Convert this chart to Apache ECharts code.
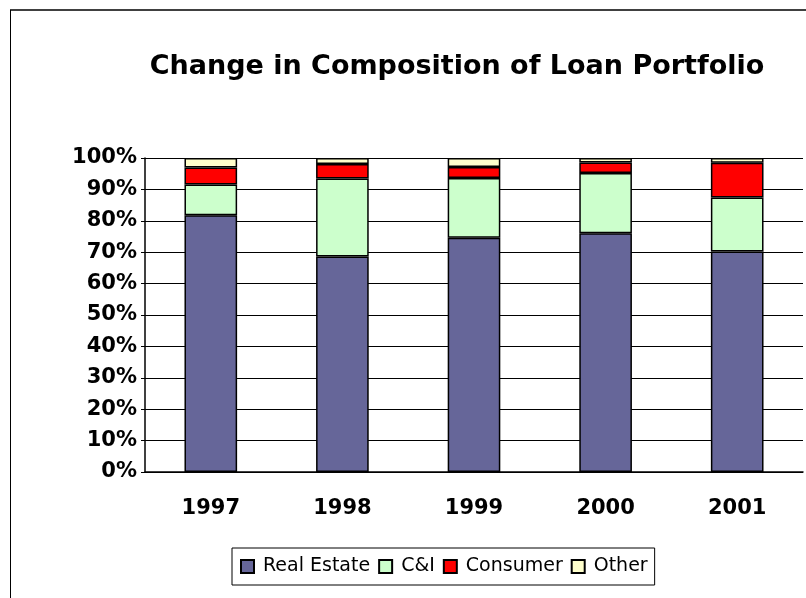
<!DOCTYPE html>
<html><head><meta charset="utf-8">
<script src="https://cdn.jsdelivr.net/npm/echarts@6/dist/echarts.min.js"></script>
<style>html,body{margin:0;padding:0;background:#fff}#c{width:806px;height:598px}</style>
</head><body><div id="c"></div>
<script>
const years = ['1997','1998','1999','2000','2001'];
const realEstate = [81.8, 68.6, 74.6, 76.0, 70.2];
const cAndI = [9.8, 24.9, 19.0, 19.2, 17.2];
const consumer = [5.4, 4.6, 3.5, 3.4, 11.1];
const other = [3.0, 1.9, 2.9, 1.4, 1.5];
const yTicks = [0,10,20,30,40,50,60,70,80,90,100];

const chart = echarts.init(document.getElementById('c'), null, {renderer:'canvas'});
const font = 'Tahoma, "DejaVu Sans", Verdana, sans-serif';
function s(name, data, color){
  return {name, type:'bar', stack:'t', data, barWidth:'40%',
    itemStyle:{color, borderColor:'#000', borderWidth:1.5}};
}
chart.setOption({
  animation:false,
  title:{text:'Change in Composition of Loan Portfolio', left:452, top:48, textAlign:'center',
    textStyle:{fontFamily:font, fontWeight:'bold', fontSize:27, color:'#000'}},
  legend:{top:548, left:232, itemWidth:13, itemHeight:13, itemGap:8,
    borderColor:'#000', borderWidth:1, padding:[9,7,9,8],
    textStyle:{fontFamily:font, fontSize:19, color:'#000', padding:[0,0,0,4]},
    data:['Real Estate','C&I','Consumer','Other'].map(n=>({name:n, icon:'rect'}))},
  grid:{left:145, right:3, top:158, bottom:126},
  xAxis:{type:'category', data:years,
    axisLine:{lineStyle:{color:'#000', width:1.5}},
    axisTick:{inside:true, length:7, lineStyle:{color:'#000'}},
    axisLabel:{margin:26, fontFamily:font, fontWeight:'bold', fontSize:21, color:'#000'}},
  yAxis:{type:'value', min:0, max:100, interval:10,
    axisLine:{show:true, lineStyle:{color:'#000', width:1.5}},
    axisTick:{show:true, length:4, lineStyle:{color:'#000'}},
    splitLine:{lineStyle:{color:'#000', width:1}},
    axisLabel:{formatter:v=>yTicks.includes(v)?v+'%':'', margin:8, fontFamily:font, fontWeight:'bold', fontSize:21, color:'#000'}},
  graphic:[
    {type:'line', shape:{x1:10,y1:10,x2:806,y2:10}, style:{stroke:'#404040', lineWidth:2}},
    {type:'line', shape:{x1:10.5,y1:10,x2:10.5,y2:598}, style:{stroke:'#000', lineWidth:1}}
  ],
  series:[
    s('Real Estate', realEstate, '#666699'),
    s('C&I', cAndI, '#CCFFCC'),
    s('Consumer', consumer, '#FF0000'),
    s('Other', other, '#FFFFCC')
  ]
});
</script></body></html>
